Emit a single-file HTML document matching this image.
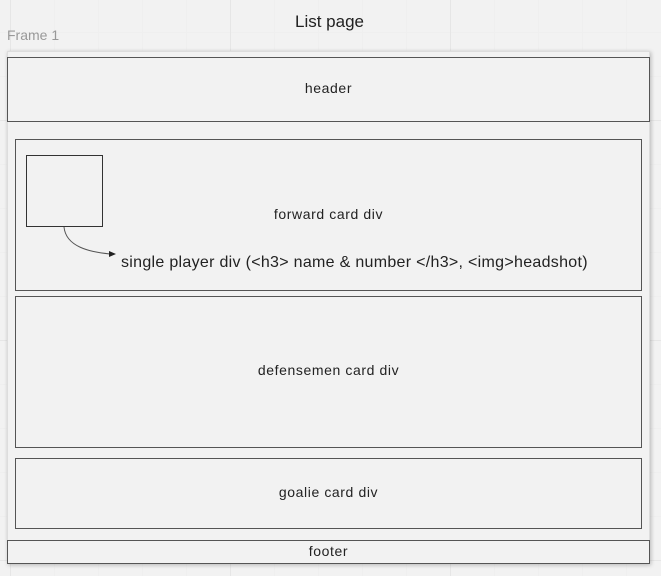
<!DOCTYPE html>
<html><head><style>
body{margin:0;width:661px;height:576px;position:relative;overflow:hidden;background:#f2f2f2;font-family:"Liberation Sans",sans-serif;
background-image:linear-gradient(#e6e6e6 1px,transparent 1px),linear-gradient(90deg,#e6e6e6 1px,transparent 1px),linear-gradient(#efefef 1px,transparent 1px),linear-gradient(90deg,#efefef 1px,transparent 1px);
background-size:220px 220px,220px 220px,44px 44px,44px 44px;background-position:10px 120px,10px 0,10px 32px,10px 0;}
.b{position:absolute;box-sizing:border-box;border:1.5px solid #555;display:flex;align-items:center;justify-content:center;font-size:14px;color:#222;letter-spacing:0.6px;}
.t{position:absolute;white-space:nowrap;color:#222;}
</style></head><body>
<div class="t" style="left:295px;top:12px;font-size:17px;">List page</div>
<div class="t" style="left:7px;top:27px;font-size:14px;color:#999;">Frame 1</div>
<div style="position:absolute;left:7px;top:51px;width:643px;height:513px;background:#f2f2f2;box-shadow:1px 1px 4px rgba(0,0,0,.25);border:1px solid #ddd;box-sizing:border-box"></div>
<div class="b" style="left:7px;top:57px;width:643px;height:65px;"><span style="position:relative;top:-2px">header</span></div>
<div class="b" style="left:15px;top:139px;width:627px;height:152px;"><span style="position:relative;top:-1px">forward card div</span></div>
<div class="b" style="left:26px;top:155px;width:77px;height:72px;border-width:1px;border-color:#333"></div>
<svg style="position:absolute;left:0;top:0" width="661" height="576"><path d="M64 227 C66 247 90 252 110 254" fill="none" stroke="#555" stroke-width="1"/><path d="M116 254 L109 251 L109 257Z" fill="#222"/></svg>
<div class="t" style="left:121px;top:254px;font-size:16px;letter-spacing:0.3px;">single player div (&lt;h3&gt; name &amp; number &lt;/h3&gt;, &lt;img&gt;headshot)</div>
<div class="b" style="left:15px;top:296px;width:627px;height:152px;"><span style="position:relative;top:-2px">defensemen card div</span></div>
<div class="b" style="left:15px;top:458px;width:627px;height:71px;"><span style="position:relative;top:-2px">goalie card div</span></div>
<div class="b" style="left:7px;top:540px;width:643px;height:24px;"><span style="position:relative;top:-1px">footer</span></div>
</body></html>
